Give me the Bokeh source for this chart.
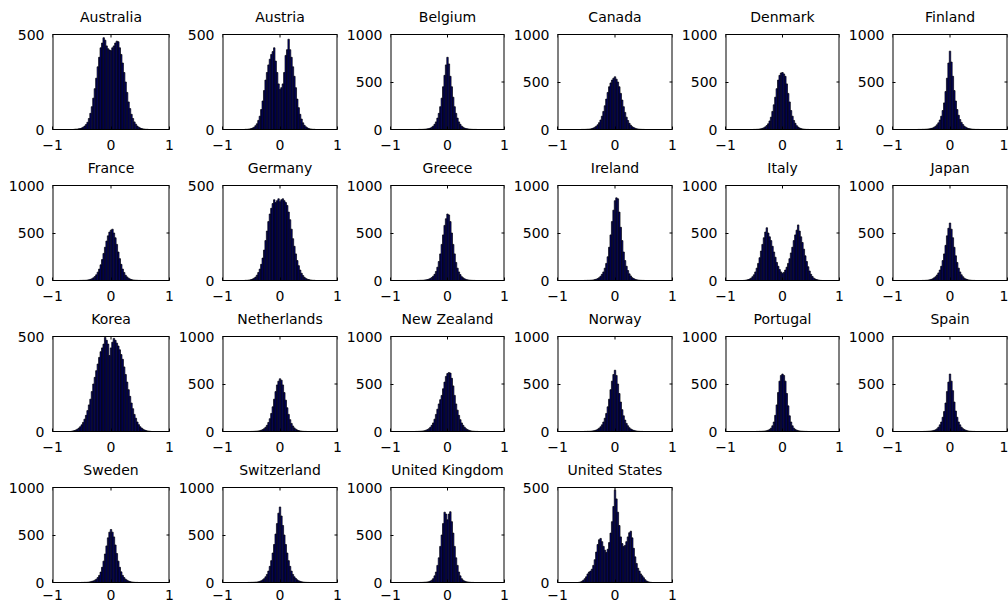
import math
from bokeh.plotting import figure
from bokeh.layouts import gridplot
from bokeh.models import FixedTicker, Range1d, Label
from bokeh.embed import file_html
from bokeh.resources import INLINE

# bin centres of the histograms (bin width 0.025)
bin_centers = [-0.675, -0.650, -0.625, -0.600, -0.575, -0.550, -0.525, -0.500, -0.475, -0.450,
               -0.425, -0.400, -0.375, -0.350, -0.325, -0.300, -0.275, -0.250, -0.225, -0.200,
               -0.175, -0.150, -0.125, -0.100, -0.075, -0.050, -0.025, 0.000, 0.025, 0.050,
               0.075, 0.100, 0.125, 0.150, 0.175, 0.200, 0.225, 0.250, 0.275, 0.300,
               0.325, 0.350, 0.375, 0.400, 0.425, 0.450, 0.475, 0.500, 0.525, 0.550,
               0.575, 0.600, 0.625, 0.650, 0.675]

australia = [0,0,1,2,2, 4,5,8,12,18, 26,38,58,85,120, 165,215,270,330,380, 430,455,483,470,440,
             425,418,415,430,440, 455,465,462,430,395, 350,300,250,195,145, 110,80,58,40,28,
             18,12,8,5,3, 2,1,1,0,0]
austria = [0,0,0,1,1, 2,3,5,8,12, 20,30,48,70,105, 150,205,260,300,340, 370,395,410,430,360,
           300,240,210,220,240, 300,390,420,475,420, 380,330,280,220,160, 115,80,55,35,22,
           14,9,5,3,2, 1,1,0,0,0]
belgium = [0,0,0,0,0, 0,0,1,1,1, 2,3,5,7,10, 15,24,35,55,80, 120,170,240,330,450,
           570,680,760,690,560, 450,340,240,170,120, 80,55,35,24,15, 10,7,5,3,2,
           1,1,1,0,0, 0,0,0,0,0]
canada = [0,0,0,0,1, 1,1,2,3,4, 6,10,16,24,35, 50,72,100,140,190, 250,320,390,450,490,
          520,540,555,530,500, 450,380,310,240,180, 130,95,65,45,30, 20,13,8,5,3,
          2,1,1,0,0, 0,0,0,0,0]
denmark = [0,0,0,0,0, 0,0,1,1,2, 3,5,8,12,18, 28,42,60,90,130, 190,260,340,430,520,
           570,595,600,585,560, 480,380,290,200,140, 95,65,40,26,16, 10,6,4,2,1,
           1,0,0,0,0, 0,0,0,0,0]
finland = [0,0,0,0,0, 1,1,1,2,2, 3,4,6,8,12, 16,24,35,50,70, 100,140,200,280,400,
           540,700,825,710,560, 410,300,210,150,105, 75,52,35,24,16, 11,7,5,3,2,
           1,1,1,0,0, 0,0,0,0,0]
france = [0,0,0,0,0, 0,1,1,2,2, 3,5,8,12,18, 28,42,60,88,120, 165,220,285,350,415,
          470,510,530,540,500, 450,380,300,230,170, 120,85,55,38,25, 16,10,6,4,3,
          2,1,1,0,0, 0,0,0,0,0]
germany = [0,0,0,1,1, 2,3,5,8,12, 18,28,42,60,85, 118,160,210,260,310, 350,380,405,425,410,
           420,430,415,425,430, 420,410,395,360,320, 270,220,180,140,105, 78,55,38,26,17,
           11,7,5,3,2, 1,1,0,0,0]
greece = [0,0,0,0,0, 0,1,1,2,2, 3,5,7,10,15, 22,32,45,65,95, 140,200,280,380,480,
          580,650,700,690,620, 500,380,280,190,130, 90,62,40,28,18, 11,7,5,3,2,
          1,1,0,0,0, 0,0,0,0,0]
ireland = [0,0,0,0,0, 0,1,1,2,2, 3,4,6,10,14, 20,30,45,65,90, 130,180,250,350,480,
           620,740,840,870,860, 720,560,420,300,210, 150,105,70,48,30, 20,12,8,5,3,
           2,1,1,0,0, 0,0,0,0,0]
italy = [1,3,6,10,16, 25,40,60,90,130, 180,240,310,380,450, 510,555,500,460,420, 360,300,245,190,150,
         115,90,75,85,110, 140,180,230,290,350, 420,480,530,585,520, 460,400,330,260,200,
         145,100,65,42,25, 16,10,6,3,1]
japan = [0,0,0,0,0, 0,0,0,1,1, 2,3,5,8,12, 18,28,40,58,80, 110,150,210,280,370,
         470,550,605,540,450, 350,260,190,130,90, 60,40,25,16,10, 6,4,2,1,1,
         0,0,0,0,0, 0,0,0,0,0]
korea = [1,3,5,8,12, 18,25,35,48,65, 85,110,140,170,210, 250,285,320,355,390, 420,440,460,495,480,
         460,400,440,470,490, 480,465,450,430,405, 380,340,300,260,220, 185,150,120,90,70,
         50,36,25,18,12, 8,5,3,2,1]
netherlands = [0,0,0,0,0, 0,0,1,1,2, 3,4,6,9,14, 20,30,45,65,95, 135,190,260,340,420,
               490,530,555,540,490, 410,330,250,180,125, 85,58,38,25,16, 10,6,4,2,1,
               1,0,0,0,0, 0,0,0,0,0]
new_zealand = [0,0,0,0,0, 1,1,2,3,4, 6,9,14,20,30, 45,65,90,130,180, 235,290,335,380,450,
               520,580,610,620,615, 560,480,380,290,225, 170,125,90,65,45, 30,20,13,8,5,
               3,2,1,1,0, 0,0,0,0,0]
norway = [0,0,0,0,0, 0,1,1,2,2, 3,5,7,11,16, 24,35,50,70,100, 140,190,260,340,440,
          530,600,645,590,500, 400,310,230,165,120, 85,60,40,27,18, 12,8,5,3,2,
          1,1,0,0,0, 0,0,0,0,0]
portugal = [0,0,0,0,0, 0,0,0,0,1, 1,2,2,3,4, 6,9,14,22,35, 60,100,170,280,410,
            530,590,605,590,530, 400,270,165,100,60, 35,22,14,9,6, 4,3,2,1,1,
            0,0,0,0,0, 0,0,0,0,0]
spain = [0,0,0,0,0, 0,0,0,0,1, 1,2,3,4,6, 8,12,18,28,45, 70,100,150,210,300,
         420,520,605,530,430, 310,215,150,100,70, 45,30,20,13,8, 5,3,2,1,1,
         0,0,0,0,0, 0,0,0,0,0]
sweden = [0,0,0,0,0, 0,0,1,1,2, 2,3,5,8,12, 17,25,35,52,75, 110,160,225,300,385,
          470,530,558,530,480, 395,305,225,160,112, 75,52,35,24,16, 10,6,4,2,1,
          1,0,0,0,0, 0,0,0,0,0]
switzerland = [0,0,0,0,0, 1,1,2,2,3, 4,5,8,12,18, 28,40,60,85,120, 170,230,310,400,510,
               620,730,795,700,600, 500,400,310,230,170, 120,85,60,42,28, 18,12,8,5,3,
               2,1,1,0,0, 0,0,0,0,0]
united_kingdom = [0,0,0,0,0, 0,0,0,1,1, 2,3,4,6,9, 15,25,40,70,110, 180,260,380,500,620,
                  740,720,660,720,745, 640,520,380,260,180, 110,70,40,25,15, 9,6,4,2,1,
                  1,0,0,0,0, 0,0,0,0,0]
united_states = [0,0,1,3,6, 12,20,30,45,55, 60,70,90,120,160, 200,225,232,215,190, 170,158,175,210,260,
                 320,400,486,440,370, 300,240,205,190,195, 215,240,262,270,235, 180,135,100,75,60,
                 45,35,25,15,8, 4,2,1,0,0]

countries = ["Australia", "Austria", "Belgium", "Canada", "Denmark", "Finland",
             "France", "Germany", "Greece", "Ireland", "Italy", "Japan",
             "Korea", "Netherlands", "New Zealand", "Norway", "Portugal", "Spain",
             "Sweden", "Switzerland", "United Kingdom", "United States"]
series = [australia, austria, belgium, canada, denmark, finland,
          france, germany, greece, ireland, italy, japan,
          korea, netherlands, new_zealand, norway, portugal, spain,
          sweden, switzerland, united_kingdom, united_states]
y_max = [500, 500, 1000, 1000, 1000, 1000,
         1000, 500, 1000, 1000, 1000, 1000,
         500, 1000, 1000, 1000, 1000, 1000,
         1000, 1000, 1000, 500]
x_ticks = [-1, 0, 1]
x_tick_labels = ["\u22121", "0", "1"]

FONT = "DejaVu Sans"
FS = "14px"

COL_LEFT = [52, 45, 44, 45, 44, 45]
COL_RIGHT = [6, 6, 6, 6, 6, 1]
ROW_HEAD = [34, 28, 28, 28]      # space above each box (holds the title)
ROW_BOTTOM = [28, 28, 28, 24]
ROW_XSTANDOFF = [10, 10, 10, 7]
BOX_W = 117
BOX_H = 95


def make_panel(name, vals, ymax, col, row):
    left, right = COL_LEFT[col], COL_RIGHT[col]
    head, bottom = ROW_HEAD[row], ROW_BOTTOM[row]
    frame_h = BOX_H + head
    y_top = ymax * frame_h / BOX_H
    p = figure(width=left + BOX_W + right, height=frame_h + bottom,
               x_range=Range1d(-1, 1), y_range=Range1d(0, y_top),
               output_backend="svg", toolbar_location=None,
               min_border_left=left, min_border_right=right,
               min_border_top=0, min_border_bottom=bottom)
    p.vbar(x=bin_centers, top=vals, width=0.025, bottom=0,
           fill_color="#000080", line_color="black", line_width=0.7)
    y_ticks = [0, 500, 1000] if ymax == 1000 else [0, 500]
    # box: left/right edges sit on the frame edge (half clipped), top edge inside
    p.segment(x0=[-1, 1], y0=[0, 0], x1=[-1, 1], y1=[ymax, ymax],
              line_color="black", line_width=2)
    p.segment(x0=[-1], y0=[ymax], x1=[1], y1=[ymax], line_color="black", line_width=1)
    # inward ticks on the top and right edges
    p.ray(x=x_ticks, y=[ymax] * len(x_ticks), length=3, length_units="screen",
          angle=-math.pi / 2, line_color="black", line_width=1)
    p.ray(x=[1] * len(y_ticks), y=y_ticks, length=3, length_units="screen",
          angle=math.pi, line_color="black", line_width=1)
    p.add_layout(Label(x=0, y=ymax, text=name, text_align="center",
                       text_baseline="middle", y_offset=18,
                       text_font=FONT, text_font_size=FS, text_color="black"))
    p.xgrid.visible = False
    p.ygrid.visible = False
    p.outline_line_color = None
    p.background_fill_color = "white"
    p.border_fill_color = "white"
    p.xaxis.ticker = FixedTicker(ticks=x_ticks)
    p.xaxis.major_label_overrides = {float(t): s for t, s in zip(x_ticks, x_tick_labels)}
    p.yaxis.ticker = FixedTicker(ticks=y_ticks)
    for ax in (p.xaxis, p.yaxis):
        ax.major_tick_in = 3
        ax.major_tick_out = 0
        ax.minor_tick_line_color = None
        ax.major_tick_line_color = "black"
        ax.major_label_text_font = FONT
        ax.major_label_text_font_size = FS
        ax.major_label_text_color = "black"
    p.xaxis.axis_line_color = "black"
    p.yaxis.axis_line_color = None
    p.xaxis.major_label_standoff = ROW_XSTANDOFF[row]
    p.yaxis.major_label_standoff = 8
    return p


rows = []
for r in range(4):
    row = []
    for c in range(6):
        i = r * 6 + c
        if i < len(countries):
            row.append(make_panel(countries[i], series[i], y_max[i], c, r))
        else:
            row.append(None)
    rows.append(row)

grid = gridplot(rows, toolbar_location=None)

open("out.html", "w").write(file_html(grid, INLINE))
